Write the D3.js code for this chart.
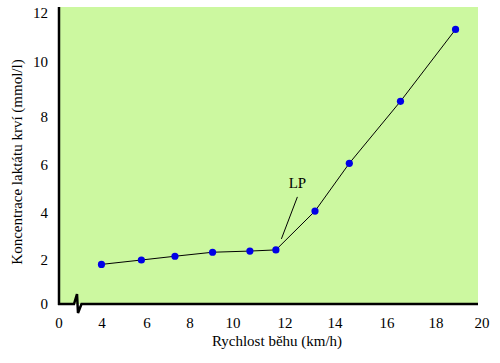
<!DOCTYPE html>
<html>
<head>
<meta charset="utf-8">
<script src="https://cdn.jsdelivr.net/npm/d3@7"></script>
<style>
  body { margin: 0; background: #fff; }
  svg text { font-family: "Liberation Serif", serif; }
</style>
</head>
<body>
<svg width="500" height="363"></svg>
<script>
// speed (km/h) and blood lactate (mmol/l)
const speed   = [3.95, 5.75, 7.3, 9.05, 10.65, 11.65, 13.2, 14.55, 16.55, 18.85];
const lactate = [1.8, 2.0, 2.16, 2.33, 2.38, 2.43, 4.08, 6.07, 8.57, 11.33];
const xTicks = [0, 4, 6, 8, 10, 12, 14, 16, 18, 20];
const yTicks = [0, 2, 4, 6, 8, 10, 12];
const lpIndex = 5;   // point marked "LP"

const svg = d3.select('svg')
    .attr('font-size', 15);
const plot = {l: 60, r: 478, t: 7, b: 304};

// axis is broken between 0 and 4, and the original tick spacing is hand drawn
const x = d3.scaleLinear()
    .domain(xTicks)
    .range([59, 102, 147, 190, 233, 285, 335, 387, 436, 482]);
const y = d3.scaleLinear()
    .domain(yTicks)
    .range([304, 260, 213, 165, 117, 62, 13]);

svg.append('rect')
    .attr('x', plot.l)
    .attr('y', plot.t)
    .attr('width', plot.r - plot.l)
    .attr('height', plot.b - plot.t)
    .attr('fill', '#ccf8a0');

// tick labels
svg.selectAll('.xt')
    .data(xTicks)
    .join('text')
    .attr('class', 'xt')
    .attr('x', d => x(d))
    .attr('y', 328)
    .attr('text-anchor', 'middle')
    .text(d => d);

svg.selectAll('.yt')
    .data(yTicks)
    .join('text')
    .attr('class', 'yt')
    .attr('x', 48)
    .attr('y', d => y(d) + 5)
    .attr('text-anchor', 'end')
    .text(d => d);

// axes lines with the break mark
svg.append('line')
    .attr('x1', plot.l - 1).attr('x2', plot.l - 1)
    .attr('y1', plot.t).attr('y2', plot.b + 1)
    .attr('stroke', '#000').attr('stroke-width', 2.5);

svg.append('path')
    .attr('d', `M${plot.l - 2},${plot.b} L74,${plot.b} L77,294 L78,313 L81.5,${plot.b} L${plot.r},${plot.b}`)
    .attr('fill', 'none')
    .attr('stroke', '#000')
    .attr('stroke-width', 2.5)
    .attr('stroke-linejoin', 'miter');

// data
const pts = speed.map((s, i) => ({x: s, y: lactate[i]}));

svg.append('path')
    .datum(pts)
    .attr('d', d3.line().x(d => x(d.x)).y(d => y(d.y)))
    .attr('fill', 'none')
    .attr('stroke', '#000')
    .attr('stroke-width', 1);

svg.selectAll('circle')
    .data(pts)
    .join('circle')
    .attr('cx', d => x(d.x))
    .attr('cy', d => y(d.y))
    .attr('r', 3.6)
    .attr('fill', '#0000e6');

// LP annotation
const lp = pts[lpIndex];
const lx = x(lp.x), ly = y(lp.y);
svg.append('line')
    .attr('x1', lx + 5.5).attr('y1', ly - 11)
    .attr('x2', lx + 21.5).attr('y2', ly - 53)
    .attr('stroke', '#000').attr('stroke-width', 1);
svg.append('text')
    .attr('x', lx + 21.5)
    .attr('y', ly - 62)
    .attr('text-anchor', 'middle')
    .text('LP');

// axis titles
svg.append('text')
    .attr('x', 277)
    .attr('y', 346)
    .attr('text-anchor', 'middle')
    .text('Rychlost běhu (km/h)');

svg.append('text')
    .attr('transform', 'translate(22,162) rotate(-90)')
    .attr('text-anchor', 'middle')
    .text('Koncentrace laktátu krví (mmol/l)');
</script>
</body>
</html>
